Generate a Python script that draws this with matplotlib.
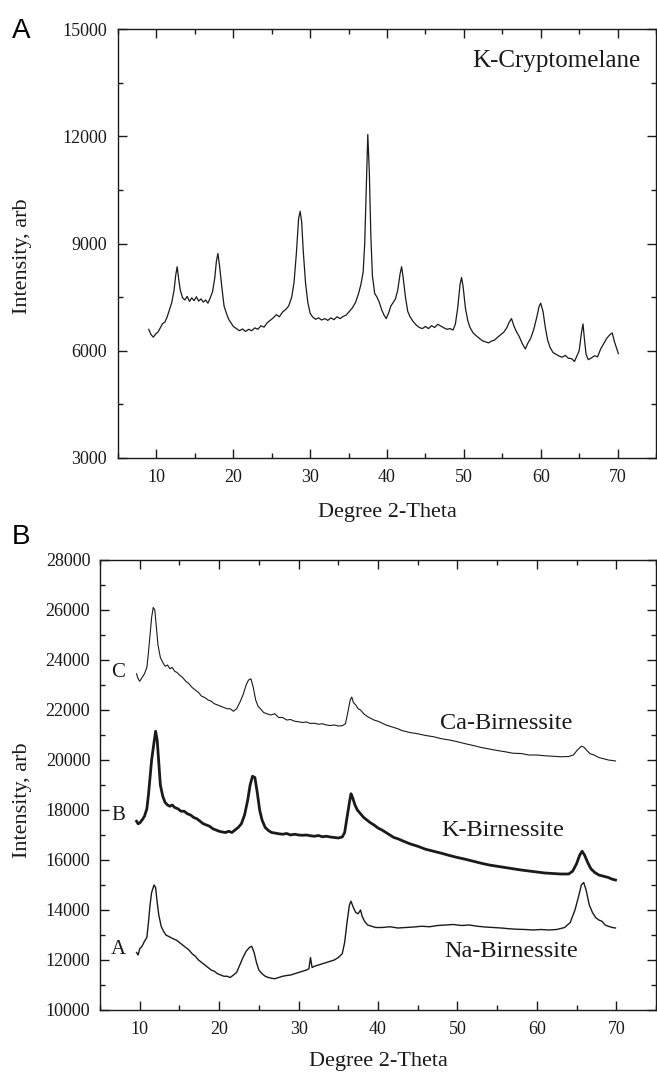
import matplotlib
matplotlib.use("Agg")
import matplotlib.pyplot as plt
from matplotlib.ticker import MultipleLocator

plt.rcParams['font.family'] = ['Liberation Serif', 'DejaVu Serif']

# panel A: K-Cryptomelane pattern
crypt_x = [9.0, 9.3, 9.6, 9.9, 10.2, 10.5, 10.8, 11.1, 11.4, 11.7, 12.0, 12.3, 12.5, 12.7, 12.9,
           13.1, 13.4, 13.7, 14.0, 14.3, 14.6, 14.9, 15.2, 15.5, 15.8, 16.1, 16.4, 16.7, 17.0,
           17.3, 17.6, 17.8, 18.0, 18.2, 18.5, 18.8, 19.1, 19.4, 19.7, 20.0, 20.4, 20.8, 21.2,
           21.6, 22.0, 22.4, 22.8, 23.2, 23.6, 24.0, 24.4, 24.8, 25.2, 25.6, 26.0, 26.4, 26.8,
           27.2, 27.6, 27.9, 28.2, 28.5, 28.7, 28.9, 29.1, 29.4, 29.7, 30.0, 30.3, 30.7, 31.1,
           31.5, 31.9, 32.3, 32.7, 33.1, 33.5, 33.9, 34.3, 34.7, 35.1, 35.5, 35.9, 36.3, 36.6,
           36.9, 37.1, 37.3, 37.5, 37.7, 37.9, 38.1, 38.4, 38.7, 39.0, 39.3, 39.6, 39.9, 40.2,
           40.5, 40.8, 41.1, 41.4, 41.7, 41.9, 42.1, 42.4, 42.7, 43.0, 43.4, 43.8, 44.2, 44.6,
           45.0, 45.4, 45.8, 46.2, 46.6, 47.0, 47.4, 47.8, 48.2, 48.6, 48.9, 49.2, 49.5, 49.7,
           49.9, 50.2, 50.5, 50.8, 51.2, 51.6, 52.0, 52.4, 52.8, 53.2, 53.6, 54.0, 54.4, 54.8,
           55.2, 55.6, 55.9, 56.2, 56.5, 56.8, 57.2, 57.6, 58.0, 58.3, 58.7, 59.1, 59.5, 59.8,
           60.0, 60.3, 60.6, 60.9, 61.2, 61.6, 62.0, 62.4, 62.8, 63.2, 63.6, 64.0, 64.4, 64.7,
           65.0, 65.3, 65.5, 65.7, 65.9, 66.2, 66.6, 67.0, 67.4, 67.8, 68.2, 68.6, 69.0, 69.3,
           69.6, 69.9, 70.1]
crypt_y = [6600, 6450, 6380, 6470, 6520, 6640, 6760, 6800, 6950, 7150, 7350, 7700, 8100, 8350, 8000,
           7700, 7480, 7420, 7520, 7380, 7480, 7400, 7510, 7390, 7450, 7360, 7420, 7330, 7480,
           7650, 8050, 8500, 8720, 8400, 7800, 7250, 7050, 6880, 6780, 6680, 6620, 6560, 6610,
           6540, 6600, 6560, 6640, 6600, 6700, 6660, 6780, 6850, 6920, 7010, 6950, 7080, 7150,
           7250, 7500, 7900, 8700, 9700, 9900, 9600, 8800, 7900, 7350, 7050, 6950, 6880, 6920,
           6860, 6900, 6850, 6920, 6870, 6950, 6900, 6960, 7000, 7100, 7200, 7350, 7600, 7850,
           8200, 9000, 10500, 12050, 11000, 9200, 8100, 7600, 7500, 7350, 7150, 7000, 6900, 7050,
           7250, 7350, 7450, 7700, 8150, 8350, 8050, 7500, 7100, 6950, 6820, 6720, 6650, 6620,
           6680, 6620, 6700, 6650, 6740, 6690, 6640, 6600, 6620, 6580, 6750, 7200, 7850, 8050,
           7800, 7200, 6850, 6650, 6500, 6420, 6350, 6280, 6250, 6220, 6270, 6300, 6380, 6450,
           6520, 6650, 6800, 6900, 6700, 6550, 6400, 6200, 6050, 6200, 6350, 6600, 6950, 7250,
           7330, 7100, 6650, 6300, 6100, 5950, 5900, 5850, 5820, 5870, 5790, 5780, 5700, 5850,
           6000, 6500, 6750, 6300, 5900, 5750, 5800, 5860, 5830, 6050, 6200, 6350, 6450, 6500,
           6250, 6050, 5920]

# panel B: three birnessite patterns
ca_x = [9.6, 9.8, 10.0, 10.3, 10.6, 10.9, 11.1, 11.3, 11.5, 11.7, 11.9, 12.1, 12.3, 12.6, 12.9,
        13.2, 13.5, 13.8, 14.1, 14.4, 14.7, 15.0, 15.4, 15.8, 16.2, 16.6, 17.0, 17.4, 17.8,
        18.2, 18.6, 19.0, 19.4, 19.8, 20.2, 20.6, 21.0, 21.4, 21.8, 22.2, 22.6, 23.0, 23.4,
        23.7, 24.0, 24.3, 24.6, 24.9, 25.2, 25.6, 26.0, 26.5, 27.0, 27.5, 28.0, 28.5, 29.0,
        29.5, 30.0, 30.5, 31.0, 31.5, 32.0, 32.5, 33.0, 33.5, 34.0, 34.5, 35.0, 35.5, 35.9,
        36.2, 36.5, 36.7, 36.9, 37.2, 37.5, 37.8, 38.2, 38.6, 39.0, 39.5, 40.0, 40.5, 41.0,
        41.5, 42.0, 42.5, 43.0, 44.0, 45.0, 46.0, 47.0, 48.0, 49.0, 50.0, 51.0, 52.0, 53.0,
        54.0, 55.0, 56.0, 57.0, 58.0, 59.0, 60.0, 61.0, 62.0, 63.0, 64.0, 64.6, 65.1, 65.6,
        65.9, 66.3, 66.7, 67.2, 67.8, 68.4, 69.0, 69.5, 69.9]
ca_y = [23450, 23250, 23150, 23300, 23450, 23700, 24300, 25000, 25700, 26100, 26000, 25300, 24600,
        24100, 23900, 23750, 23800, 23650, 23700, 23550, 23500, 23400, 23300, 23150, 23050, 22900,
        22800, 22700, 22550, 22500, 22400, 22350, 22250, 22200, 22150, 22100, 22050, 22050, 21950,
        22050, 22300, 22600, 23000, 23200, 23250, 22900, 22400, 22150, 22050, 21900, 21850, 21800,
        21850, 21700, 21700, 21600, 21620, 21550, 21530, 21500, 21520, 21460, 21470, 21430, 21450,
        21400, 21380, 21400, 21360, 21370, 21450, 21900, 22400, 22520, 22300, 22200, 22050, 22000,
        21850, 21750, 21680, 21600, 21550, 21480, 21400, 21350, 21300, 21250, 21180, 21100, 21050,
        20980, 20930, 20850, 20800, 20730, 20650, 20580, 20500, 20440, 20380, 20330, 20270, 20260,
        20200, 20200, 20170, 20150, 20130, 20140, 20200, 20400, 20550, 20520, 20380, 20250, 20200,
        20100, 20050, 20000, 19980, 19960]

k_x = [9.6, 9.8, 10.0, 10.3, 10.6, 10.9, 11.1, 11.3, 11.5, 11.8, 12.0, 12.2, 12.4, 12.6, 12.9,
       13.2, 13.5, 13.8, 14.1, 14.4, 14.8, 15.2, 15.6, 16.0, 16.4, 16.8, 17.2, 17.6, 18.0,
       18.4, 18.8, 19.2, 19.6, 20.0, 20.4, 20.8, 21.2, 21.6, 22.0, 22.4, 22.8, 23.2, 23.6,
       23.9, 24.2, 24.5, 24.8, 25.1, 25.4, 25.8, 26.2, 26.6, 27.0, 27.5, 28.0, 28.5, 29.0,
       29.5, 30.0, 30.5, 31.0, 31.5, 32.0, 32.5, 33.0, 33.5, 34.0, 34.5, 35.0, 35.5, 35.8,
       36.1, 36.4, 36.6, 36.8, 37.1, 37.4, 37.8, 38.2, 38.6, 39.0, 39.5, 40.0, 40.5, 41.0,
       41.5, 42.0, 42.5, 43.0, 44.0, 45.0, 46.0, 47.0, 48.0, 49.0, 50.0, 51.0, 52.0, 53.0,
       54.0, 55.0, 56.0, 57.0, 58.0, 59.0, 60.0, 61.0, 62.0, 63.0, 64.0, 64.5, 65.0, 65.4,
       65.7, 66.0, 66.4, 66.8, 67.3, 67.8, 68.4, 69.0, 69.5, 69.9]
k_y = [17550, 17450, 17480, 17600, 17750, 18050, 18600, 19300, 20000, 20700, 21150, 20800, 19900,
       19000, 18550, 18300, 18200, 18150, 18200, 18100, 18050, 17950, 17950, 17850, 17800, 17700,
       17650, 17550, 17450, 17400, 17350, 17250, 17200, 17150, 17120, 17100, 17150, 17100, 17200,
       17300, 17450, 17800, 18400, 19000, 19350, 19300, 18700, 18000, 17600, 17300, 17180, 17100,
       17080, 17050, 17030, 17060, 17000, 17030, 17000, 16990, 17000, 16970, 16950, 16980, 16930,
       16950, 16920, 16900, 16880, 16920, 17100, 17700, 18300, 18650, 18500, 18200, 18000, 17850,
       17700, 17600, 17500, 17400, 17280, 17200, 17100, 17000, 16900, 16850, 16780, 16650, 16550,
       16430, 16350, 16270, 16180, 16100, 16030, 15950, 15870, 15800, 15750, 15700, 15650, 15600,
       15560, 15520, 15480, 15460, 15440, 15440, 15550, 15850, 16200, 16350, 16200, 15900, 15650,
       15500, 15400, 15350, 15300, 15230, 15200]

na_x = [9.6, 9.8, 10.0, 10.3, 10.6, 10.9, 11.1, 11.3, 11.5, 11.8, 12.0, 12.2, 12.4, 12.7, 13.0,
        13.3, 13.6, 13.9, 14.2, 14.6, 15.0, 15.4, 15.8, 16.2, 16.6, 17.0, 17.4, 17.8, 18.2,
        18.6, 19.0, 19.4, 19.8, 20.2, 20.6, 21.0, 21.4, 21.8, 22.2, 22.6, 23.0, 23.4, 23.8,
        24.1, 24.4, 24.7, 25.0, 25.4, 25.8, 26.2, 26.6, 27.0, 27.5, 28.0, 28.5, 29.0, 29.5,
        30.0, 30.5, 31.0, 31.3, 31.5, 31.7, 32.0, 32.5, 33.0, 33.5, 34.0, 34.5, 35.0, 35.5,
        35.8, 36.1, 36.4, 36.6, 36.9, 37.2, 37.5, 37.8, 38.0, 38.3, 38.7, 39.2, 39.7, 40.5,
        41.5, 42.5, 43.5, 44.5, 45.5, 46.5, 47.5, 48.5, 49.5, 50.5, 51.5, 52.5, 53.5, 54.5,
        55.5, 56.5, 57.5, 58.5, 59.5, 60.5, 61.5, 62.5, 63.5, 64.2, 64.8, 65.3, 65.6, 65.9,
        66.2, 66.6, 67.0, 67.4, 67.8, 68.2, 68.6, 69.0, 69.5, 69.9]
na_y = [12300, 12200, 12450, 12550, 12750, 12900, 13500, 14200, 14700, 15000, 14900, 14300, 13800,
        13350, 13150, 13000, 12950, 12900, 12850, 12800, 12700, 12600, 12500, 12400, 12250, 12150,
        12000, 11900, 11800, 11700, 11600, 11550, 11450, 11400, 11350, 11350, 11300, 11400, 11500,
        11800, 12100, 12350, 12500, 12550, 12300, 11900, 11600, 11450, 11350, 11300, 11270, 11250,
        11300, 11350, 11380, 11400, 11450, 11500, 11550, 11600, 11650, 12100, 11700, 11750, 11800,
        11850, 11900, 11950, 12000, 12100, 12250, 12700, 13500, 14200, 14350, 14100, 13900, 13850,
        14000, 13750, 13550, 13400, 13350, 13300, 13300, 13330, 13280, 13300, 13320, 13350, 13330,
        13380, 13400, 13420, 13380, 13400, 13350, 13320, 13300, 13280, 13250, 13230, 13220, 13200,
        13220, 13200, 13220, 13300, 13500, 14000, 14600, 15000, 15100, 14800, 14200, 13900, 13700,
        13600, 13550, 13400, 13350, 13300, 13280]

fig = plt.figure(figsize=(6.57, 10.74), dpi=100)
W, H = 657.0, 1074.0
ax1 = fig.add_axes([118 / W, 1 - 458 / H, (656 - 118) / W, (458 - 29) / H])
ax2 = fig.add_axes([100 / W, 1 - 1010 / H, (656 - 100) / W, (1010 - 560) / H])

ink = '#1a1a1a'


def style_axes(ax, ymajor, yminor, ylabel_x, ylabel_y, xlabel_y, ypad):
    ax.set_xlim(5, 75)
    ax.xaxis.set_major_locator(MultipleLocator(10))
    ax.xaxis.set_minor_locator(MultipleLocator(5))
    ax.yaxis.set_major_locator(MultipleLocator(ymajor))
    ax.yaxis.set_minor_locator(MultipleLocator(yminor))
    ax.set_xticks([10, 20, 30, 40, 50, 60, 70])
    ax.tick_params(which='both', direction='in', top=True, right=True, width=1.0, color=ink)
    ax.tick_params(which='major', length=6.5, labelsize=13, labelcolor=ink)
    ax.tick_params(axis='y', which='major', pad=ypad)
    ax.tick_params(axis='x', which='major', pad=8)
    ax.tick_params(which='minor', length=3.6)
    for s in ax.spines.values():
        s.set_linewidth(1.0)
        s.set_color(ink)
    ax.set_xlabel('Degree 2-Theta', fontsize=16, color=ink)
    ax.set_ylabel('Intensity, arb', fontsize=16, color=ink)
    ax.xaxis.set_label_coords(0.5, xlabel_y)
    ax.xaxis.label.set_verticalalignment('center')
    ax.yaxis.set_label_coords(ylabel_x, ylabel_y)
    ax.yaxis.label.set_verticalalignment('center')


ax1.plot(crypt_x, crypt_y, color=ink, lw=0.9)
ax1.set_ylim(3000, 15000)
style_axes(ax1, 3000, 1500, -0.178, 0.471, -0.128, 8)
ax1.text(73.0, 14100, 'K-Cryptomelane', ha='right', va='center', fontsize=18, color=ink)

ax2.plot(ca_x, ca_y, color=ink, lw=0.8)
ax2.plot(k_x, k_y, color=ink, lw=2.0)
ax2.plot(na_x, na_y, color=ink, lw=1.0)
ax2.set_ylim(10000, 28000)
style_axes(ax2, 2000, 1000, -0.140, 0.467, -0.115, 7)
for lab, yy in [('C', 23500), ('B', 17800), ('A', 12400)]:
    ax2.text(7.3, yy, lab, ha='center', va='center', fontsize=15, color=ink)
ax2.text(47.8, 21470, 'Ca-Birnessite', ha='left', va='center', fontsize=17.5, color=ink)
ax2.text(48.0, 17160, 'K-Birnessite', ha='left', va='center', fontsize=17.5, color=ink)
ax2.text(48.3, 12320, 'Na-Birnessite', ha='left', va='center', fontsize=17.5, color=ink)

fig.text(21 / W, 1 - 31 / H, 'A', family='Liberation Sans', fontsize=20, ha='center', va='center')
fig.text(21 / W, 1 - 537 / H, 'B', family='Liberation Sans', fontsize=20, ha='center', va='center')

fig.savefig('out.png', dpi=100)
